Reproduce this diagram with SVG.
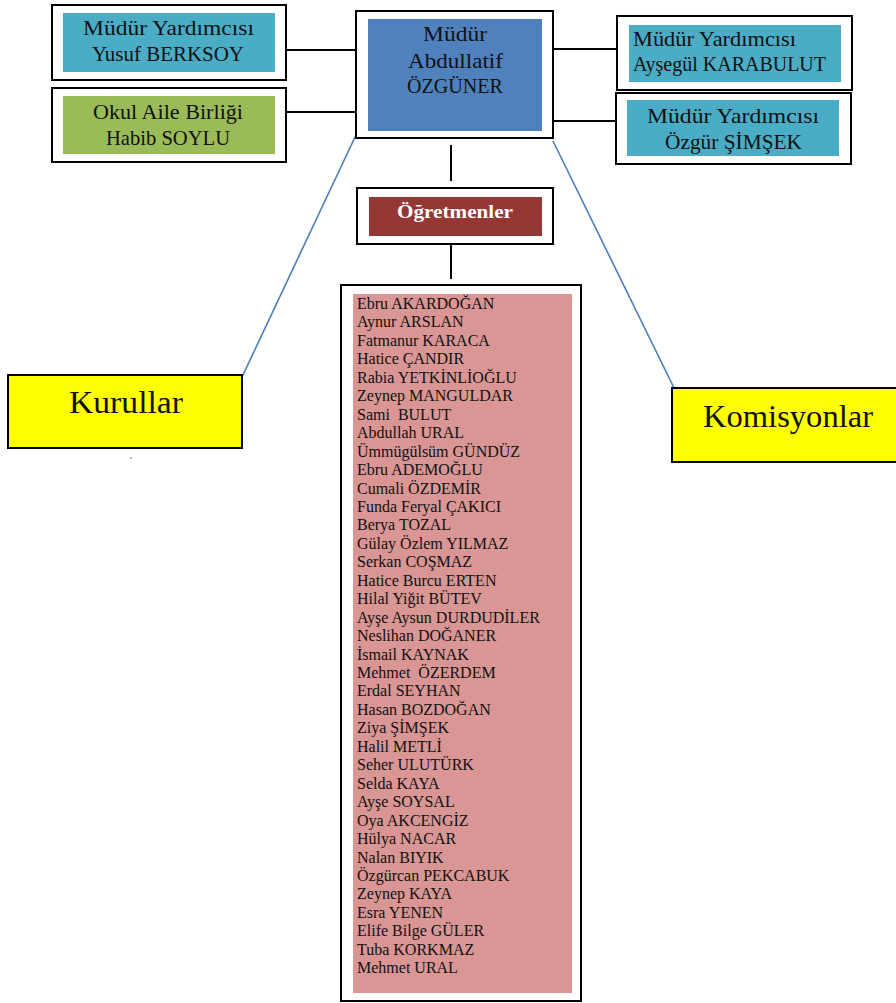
<svg xmlns="http://www.w3.org/2000/svg" width="896" height="1003" viewBox="0 0 896 1003">
<style>
.frame{fill:#fff;stroke:#000;stroke-width:2}
.hd{font-family:"Liberation Serif","DejaVu Serif",serif;font-size:21px;fill:#111}
.big{font-family:"Liberation Serif","DejaVu Serif",serif;font-size:31px;fill:#111;text-anchor:middle}
.nm{font-family:"Liberation Serif","Times New Roman",serif;font-size:16px;fill:#111;white-space:pre}
.ln{stroke:#000;stroke-width:2;fill:none}
.bl{stroke:#4a7ebb;stroke-width:1.6;fill:none}
</style>
<rect width="896" height="1003" fill="#fff"/>
<g id="connectors">
<line class="ln" x1="286" y1="50" x2="356" y2="50"/>
<line class="ln" x1="286" y1="112" x2="356" y2="112"/>
<line class="ln" x1="553" y1="49" x2="617" y2="49"/>
<line class="ln" x1="553" y1="121" x2="640" y2="121"/>
<line class="ln" x1="451" y1="145" x2="451" y2="181"/>
<line class="ln" x1="451" y1="244" x2="451" y2="279"/>
<line class="bl" x1="356" y1="135" x2="242" y2="377"/>
<line class="bl" x1="553" y1="141" x2="676" y2="392"/>
</g>
<g id="yusuf">
<rect class="frame" x="52" y="5" width="234" height="75"/>
<rect x="63" y="13" width="212" height="59" fill="#4bacc6"/>
<text class="hd" x="83" y="35" textLength="171" lengthAdjust="spacingAndGlyphs">Müdür Yardımcısı</text>
<text class="hd" x="92" y="61" textLength="152" lengthAdjust="spacingAndGlyphs">Yusuf BERKSOY</text>
</g>
<g id="okul-aile">
<rect class="frame" x="52" y="88" width="234" height="74"/>
<rect x="63" y="96" width="212" height="58" fill="#9bbb59"/>
<text class="hd" x="93" y="119" textLength="150" lengthAdjust="spacingAndGlyphs">Okul Aile Birliği</text>
<text class="hd" x="106" y="145" textLength="124" lengthAdjust="spacingAndGlyphs">Habib SOYLU</text>
</g>
<g id="mudur">
<rect class="frame" x="356" y="11" width="197" height="127"/>
<rect x="368" y="19" width="174" height="112" fill="#4f81bd"/>
<text class="hd" x="423" y="41" textLength="64" lengthAdjust="spacingAndGlyphs">Müdür</text>
<text class="hd" x="408" y="68" textLength="95" lengthAdjust="spacingAndGlyphs">Abdullatif</text>
<text class="hd" x="407" y="93" textLength="96" lengthAdjust="spacingAndGlyphs">ÖZGÜNER</text>
</g>
<g id="aysegul">
<rect class="frame" x="617" y="16" width="235" height="74"/>
<rect x="629" y="25" width="212" height="57" fill="#4bacc6"/>
<text class="hd" x="633" y="46" textLength="163" lengthAdjust="spacingAndGlyphs">Müdür Yardımcısı</text>
<text class="hd" x="633" y="71" textLength="193" lengthAdjust="spacingAndGlyphs">Ayşegül KARABULUT</text>
</g>
<g id="ozgur">
<rect class="frame" x="616" y="93" width="235" height="71"/>
<rect x="627" y="100" width="212" height="56" fill="#4bacc6"/>
<text class="hd" x="647" y="123" textLength="172" lengthAdjust="spacingAndGlyphs">Müdür Yardımcısı</text>
<text class="hd" x="665" y="149" textLength="137" lengthAdjust="spacingAndGlyphs">Özgür ŞİMŞEK</text>
</g>
<g id="ogretmenler">
<rect class="frame" x="357" y="188" width="196" height="56"/>
<rect x="369" y="197" width="173" height="39" fill="#953735"/>
<text x="455" y="218" text-anchor="middle" font-family="Liberation Serif, serif" font-size="18" font-weight="bold" fill="#fff" textLength="116" lengthAdjust="spacingAndGlyphs">Öğretmenler</text>
</g>
<g id="kurullar">
<rect x="8" y="375" width="234" height="73" fill="#ffff00" stroke="#000" stroke-width="2"/>
<text class="big" x="126" y="413" textLength="114" lengthAdjust="spacingAndGlyphs">Kurullar</text>
<circle cx="131" cy="458" r="0.7" fill="#333"/>
</g>
<g id="komisyonlar">
<rect x="672" y="388" width="230" height="74" fill="#ffff00" stroke="#000" stroke-width="2"/>
<text class="big" x="788" y="427" font-size="32" textLength="170" lengthAdjust="spacingAndGlyphs">Komisyonlar</text>
</g>
<g id="teachers">
<rect class="frame" x="341" y="285" width="240" height="716"/>
<rect x="353" y="294" width="219" height="699" fill="#d99694"/>
<text class="nm" x="357" y="309">Ebru AKARDOĞAN</text>
<text class="nm" x="357" y="327.45">Aynur ARSLAN</text>
<text class="nm" x="357" y="345.9">Fatmanur KARACA</text>
<text class="nm" x="357" y="364.35">Hatice ÇANDIR</text>
<text class="nm" x="357" y="382.8">Rabia YETKİNLİOĞLU</text>
<text class="nm" x="357" y="401.25">Zeynep MANGULDAR</text>
<text class="nm" x="357" y="419.7">Sami  BULUT</text>
<text class="nm" x="357" y="438.15">Abdullah URAL</text>
<text class="nm" x="357" y="456.6">Ümmügülsüm GÜNDÜZ</text>
<text class="nm" x="357" y="475.05">Ebru ADEMOĞLU</text>
<text class="nm" x="357" y="493.5">Cumali ÖZDEMİR</text>
<text class="nm" x="357" y="511.95">Funda Feryal ÇAKICI</text>
<text class="nm" x="357" y="530.4">Berya TOZAL</text>
<text class="nm" x="357" y="548.85">Gülay Özlem YILMAZ</text>
<text class="nm" x="357" y="567.3">Serkan COŞMAZ</text>
<text class="nm" x="357" y="585.75">Hatice Burcu ERTEN</text>
<text class="nm" x="357" y="604.2">Hilal Yiğit BÜTEV</text>
<text class="nm" x="357" y="622.65">Ayşe Aysun DURDUDİLER</text>
<text class="nm" x="357" y="641.1">Neslihan DOĞANER</text>
<text class="nm" x="357" y="659.55">İsmail KAYNAK</text>
<text class="nm" x="357" y="678">Mehmet  ÖZERDEM</text>
<text class="nm" x="357" y="696.45">Erdal SEYHAN</text>
<text class="nm" x="357" y="714.9">Hasan BOZDOĞAN</text>
<text class="nm" x="357" y="733.35">Ziya ŞİMŞEK</text>
<text class="nm" x="357" y="751.8">Halil METLİ</text>
<text class="nm" x="357" y="770.25">Seher ULUTÜRK</text>
<text class="nm" x="357" y="788.7">Selda KAYA</text>
<text class="nm" x="357" y="807.15">Ayşe SOYSAL</text>
<text class="nm" x="357" y="825.6">Oya AKCENGİZ</text>
<text class="nm" x="357" y="844.05">Hülya NACAR</text>
<text class="nm" x="357" y="862.5">Nalan BIYIK</text>
<text class="nm" x="357" y="880.95">Özgürcan PEKCABUK</text>
<text class="nm" x="357" y="899.4">Zeynep KAYA</text>
<text class="nm" x="357" y="917.85">Esra YENEN</text>
<text class="nm" x="357" y="936.3">Elife Bilge GÜLER</text>
<text class="nm" x="357" y="954.75">Tuba KORKMAZ</text>
<text class="nm" x="357" y="973.2">Mehmet URAL</text>
</g>
</svg>
